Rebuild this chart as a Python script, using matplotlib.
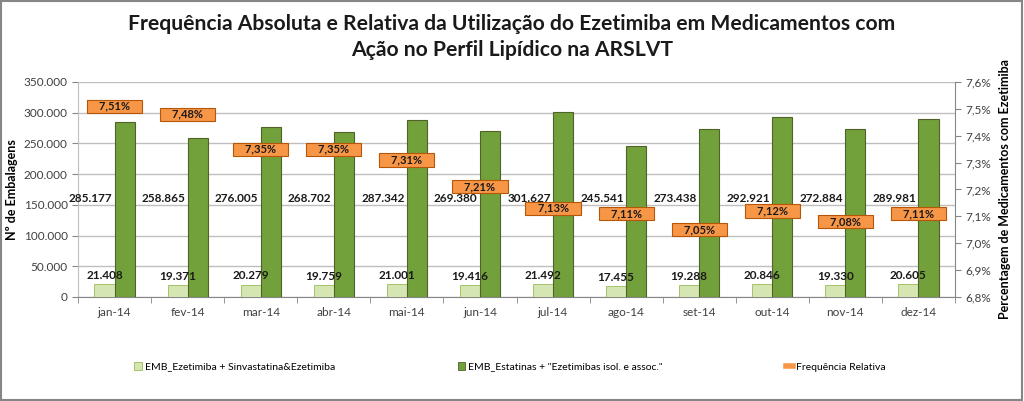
import matplotlib.pyplot as plt
import numpy as np
from matplotlib.patches import Rectangle
from matplotlib.lines import Line2D

months = ["jan-14", "fev-14", "mar-14", "abr-14", "mai-14", "jun-14",
          "jul-14", "ago-14", "set-14", "out-14", "nov-14", "dez-14"]
ezetimiba = [21408, 19371, 20279, 19759, 21001, 19416,
             21492, 17455, 19288, 20846, 19330, 20605]
estatinas = [285177, 258865, 276005, 268702, 287342, 269380,
             301627, 245541, 273438, 292921, 272884, 289981]
freq_rel = [7.51, 7.48, 7.35, 7.35, 7.31, 7.21, 7.13, 7.11, 7.05, 7.12, 7.08, 7.11]

label_ez = "EMB_Ezetimiba + Sinvastatina&Ezetimiba"
label_est = 'EMB_Estatinas + "Ezetimibas isol. e assoc."'
label_freq = "Frequência Relativa"


def pt(v):
    return f"{v:,.0f}".replace(",", ".")


def create_chart():
    plt.rcParams["font.family"] = ["Lato", "DejaVu Sans"]
    fig = plt.figure(figsize=(10.24, 4.01), dpi=100)
    ax = fig.add_axes([0.0762, 0.2594, 0.8564, 0.5362])
    ax2 = ax.twinx()

    x = np.arange(len(months))
    w = 0.275
    light, light_edge = "#D5E6B3", "#9BBB59"
    dark, dark_edge = "#72A03A", "#4F6228"

    ax.bar(x - w / 2, ezetimiba, w, color=light, edgecolor=light_edge, linewidth=0.6, zorder=3)
    ax.bar(x + w / 2, estatinas, w, color=dark, edgecolor=dark_edge, linewidth=0.8, zorder=3)

    # value labels
    for i in range(len(months)):
        ax.text(x[i] - w / 2, ezetimiba[i] + 5000, pt(ezetimiba[i]), ha="center", va="bottom",
                fontsize=8.5, fontweight="bold", color="#1a1a1a", zorder=5)
        ax.text(x[i] - 0.33, 160000, pt(estatinas[i]), ha="center", va="center",
                fontsize=8.5, fontweight="bold", color="#1a1a1a", zorder=5)

    ax.set_xlim(-0.5, len(months) - 0.5)
    ax.set_ylim(0, 350000)
    ax.set_yticks(np.arange(0, 350001, 50000))
    ax.set_yticklabels([pt(v) for v in np.arange(0, 350001, 50000)])
    ax.set_xticks(x)
    ax.set_xticklabels(months)
    ax.set_xticks(np.arange(-0.5, len(months), 1), minor=True)
    ax.tick_params(axis="x", which="major", length=0, pad=7, labelsize=8.5, labelcolor="#404040")
    ax.tick_params(axis="x", which="minor", length=4, color="#868686", direction="out")
    ax.tick_params(axis="y", length=4, color="#868686", labelsize=8.5, labelcolor="#404040")
    ax.grid(axis="y", color="#BFBFBF", linewidth=1, zorder=0)
    ax.set_axisbelow(True)
    for s in ["top", "right"]:
        ax.spines[s].set_visible(False)
    ax.spines["left"].set_color("#BFBFBF")
    ax.spines["bottom"].set_color("#868686")
    ax.set_ylabel("Nº de Embalagens", fontsize=9, fontweight="bold", labelpad=4)

    # secondary axis: relative frequency shown as boxed labels
    ax2.plot(x, freq_rel, color="none")
    ax2.set_ylim(6.8, 7.6)
    yt = np.arange(6.8, 7.61, 0.1)
    ax2.set_yticks(yt)
    ax2.set_yticklabels([f"{v:.1f}%".replace(".", ",") for v in yt])
    ax2.tick_params(axis="y", length=4, color="#868686", labelsize=8.5, labelcolor="#404040")
    for s in ["top", "left", "bottom"]:
        ax2.spines[s].set_visible(False)
    ax2.spines["right"].set_color("#868686")
    ax2.set_ylabel("Percentagem de Medicamentos com Ezetimiba", fontsize=9, fontweight="bold", labelpad=6)
    for i, v in enumerate(freq_rel):
        ax2.text(x[i], v, "    " + f"{v:.2f}%".replace(".", ",") + "    ", ha="center", va="center",
                 fontsize=8, fontweight="bold", color="#1a1a1a", zorder=6,
                 bbox=dict(boxstyle="square,pad=0.1", facecolor="#F79646", edgecolor="#B65708", linewidth=0.8))

    fig.text(0.5, 0.94, "Frequência Absoluta e Relativa da Utilização do Ezetimiba em Medicamentos com",
             ha="center", va="center", fontsize=15.2, fontweight="bold", color="#1a1a1a")
    fig.text(0.5, 0.875, "Ação no Perfil Lipídico na ARSLVT",
             ha="center", va="center", fontsize=15.2, fontweight="bold", color="#1a1a1a")

    handles = [
        Rectangle((0, 0), 1, 1, facecolor=light, edgecolor=light_edge, linewidth=0.6),
        Rectangle((0, 0), 1, 1, facecolor=dark, edgecolor=dark_edge, linewidth=0.6),
        Line2D([0], [0], color="#F79646", linewidth=4),
    ]
    fig.legend(handles, [label_ez, label_est, label_freq], loc="center left",
               bbox_to_anchor=(0.122, 0.085), ncol=3, frameon=False,
               prop={"size": 7.5},
               handlelength=0.7, handleheight=0.7, handletextpad=0.3, columnspacing=11.8)

    fig.add_artist(Rectangle((0.001, 0.002), 0.997, 0.995, transform=fig.transFigure,
                             fill=False, edgecolor="#868686", linewidth=1.5))

    fig.savefig("out.png", dpi=100)


if __name__ == "__main__":
    create_chart()
